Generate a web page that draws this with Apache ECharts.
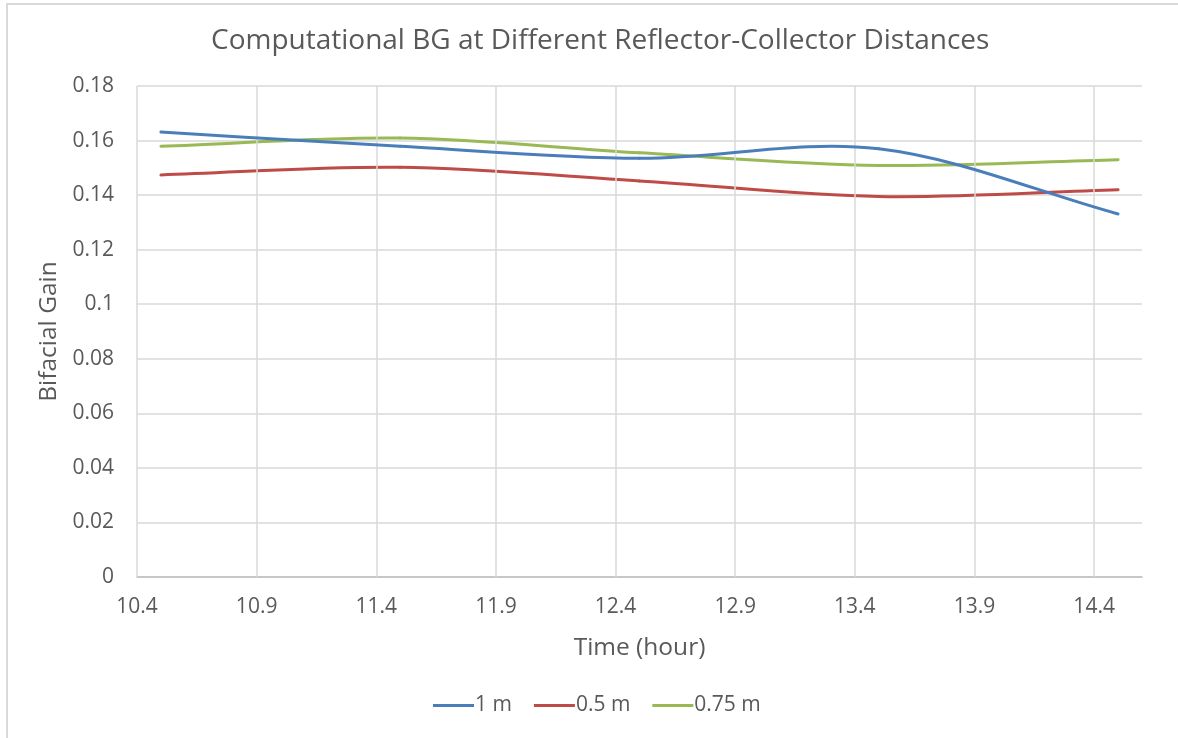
<!DOCTYPE html>
<html>
<head>
<meta charset="utf-8">
<script src="https://cdn.jsdelivr.net/npm/echarts@6/dist/echarts.min.js"></script>
<style>
  html, body { margin: 0; padding: 0; background: #fff; }
  #frame { position: absolute; left: 6px; top: 3px; width: 1172px; height: 735px;
           border-left: 2px solid #d9d9d9; border-top: 2px solid #d9d9d9; box-sizing: border-box; }
  #chart { position: absolute; left: 0; top: 0; width: 1178px; height: 738px; }
</style>
</head>
<body>
<div id="frame"></div>
<div id="chart"></div>
<script>
// ---- data ----
const times = [10.5, 11.5, 12.5, 13.5, 14.5];
const bg1m   = [0.1631, 0.1579, 0.1535, 0.1570, 0.1331];
const bg05m  = [0.1474, 0.1502, 0.1452, 0.1395, 0.1420];
const bg075m = [0.1579, 0.1609, 0.1555, 0.1509, 0.1530];
const seriesNames = ['1 m', '0.5 m', '0.75 m'];
const seriesColors = ['#4A7EBB', '#BE4B48', '#98B954'];
const xTicks = [10.4, 10.9, 11.4, 11.9, 12.4, 12.9, 13.4, 13.9, 14.4];

const pair = (xs, ys) => xs.map((x, i) => [x, ys[i]]);
const font = '"Open Sans", "Noto Sans", sans-serif';
const txt = '#595959';

// smoothed line (spreadsheet-style cubic through each point), drawn segment by segment
function smoothSeries(name, ys, color, z) {
  const data = pair(times, ys);
  return {
    name: name, type: 'custom', z: z,
    itemStyle: { color: color },
    data: data,
    encode: { x: 0, y: 1 },
    renderItem: function (params, api) {
      const i = params.dataIndex;
      const n = data.length;
      if (i >= n - 1) return null;
      const P = data.map(d => api.coord(d));
      const tan = k => {
        if (k === 0) return [P[1][0] - P[0][0], P[1][1] - P[0][1]];
        if (k === n - 1) return [P[n - 1][0] - P[n - 2][0], P[n - 1][1] - P[n - 2][1]];
        return [(P[k + 1][0] - P[k - 1][0]) / 2, (P[k + 1][1] - P[k - 1][1]) / 2];
      };
      const m0 = tan(i), m1 = tan(i + 1);
      return {
        type: 'bezierCurve',
        shape: {
          x1: P[i][0], y1: P[i][1],
          x2: P[i + 1][0], y2: P[i + 1][1],
          cpx1: P[i][0] + m0[0] / 3, cpy1: P[i][1] + m0[1] / 3,
          cpx2: P[i + 1][0] - m1[0] / 3, cpy2: P[i + 1][1] - m1[1] / 3
        },
        style: { stroke: color, lineWidth: 3, fill: null, lineCap: 'round' }
      };
    }
  };
}

const chart = echarts.init(document.getElementById('chart'), null, { renderer: 'canvas' });
chart.setOption({
  animation: false,
  title: {
    text: 'Computational BG at Different Reflector-Collector Distances',
    left: 206, top: 22,
    textStyle: { fontFamily: font, fontSize: 28, fontWeight: 'normal', color: txt }
  },
  grid: { left: 137, right: 36, top: 86, bottom: 161 },
  legend: {
    bottom: 17, left: 428,
    itemWidth: 41, itemHeight: 3, itemGap: 22,
    icon: 'rect',
    textStyle: { fontFamily: font, fontSize: 21, color: txt, padding: [0, 0, 0, -4] },
    data: seriesNames.map((n, i) => ({ name: n, itemStyle: { color: seriesColors[i] } }))
  },
  xAxis: {
    type: 'value', min: 10.4, max: 14.6, interval: 0.5,
    name: 'Time (hour)', nameLocation: 'middle', nameGap: 59,
    nameTextStyle: { fontFamily: font, fontSize: 24.5, color: txt },
    axisLine: { show: true, lineStyle: { color: '#bfbfbf', width: 1.5 } },
    axisTick: { show: false },
    axisLabel: { fontFamily: font, fontSize: 21, color: txt, margin: 20, showMaxLabel: false,
                 formatter: v => (Math.round(v * 10) / 10).toString() },
    splitLine: { show: false }
  },
  yAxis: {
    type: 'value', min: 0, max: 0.18, interval: 0.02,
    name: 'Bifacial Gain', nameLocation: 'middle', nameGap: 75,
    nameTextStyle: { fontFamily: font, fontSize: 24.5, color: txt },
    axisLine: { show: false },
    axisTick: { show: false },
    axisLabel: { fontFamily: font, fontSize: 21, color: txt, margin: 23,
                 formatter: v => (Math.round(v * 100) / 100).toString() },
    splitLine: { show: true, lineStyle: { color: '#d9d9d9', width: 1.5 } }
  },
  series: [
    {
      name: '__grid', type: 'line', data: [], silent: true,
      markLine: {
        silent: true, symbol: 'none', label: { show: false },
        lineStyle: { color: '#d9d9d9', width: 1.5, type: 'solid' },
        data: xTicks.map(x => ({ xAxis: x }))
      }
    },
    smoothSeries(seriesNames[0], bg1m, seriesColors[0], 5),
    smoothSeries(seriesNames[1], bg05m, seriesColors[1], 4),
    smoothSeries(seriesNames[2], bg075m, seriesColors[2], 3)
  ]
});
</script>
</body>
</html>
